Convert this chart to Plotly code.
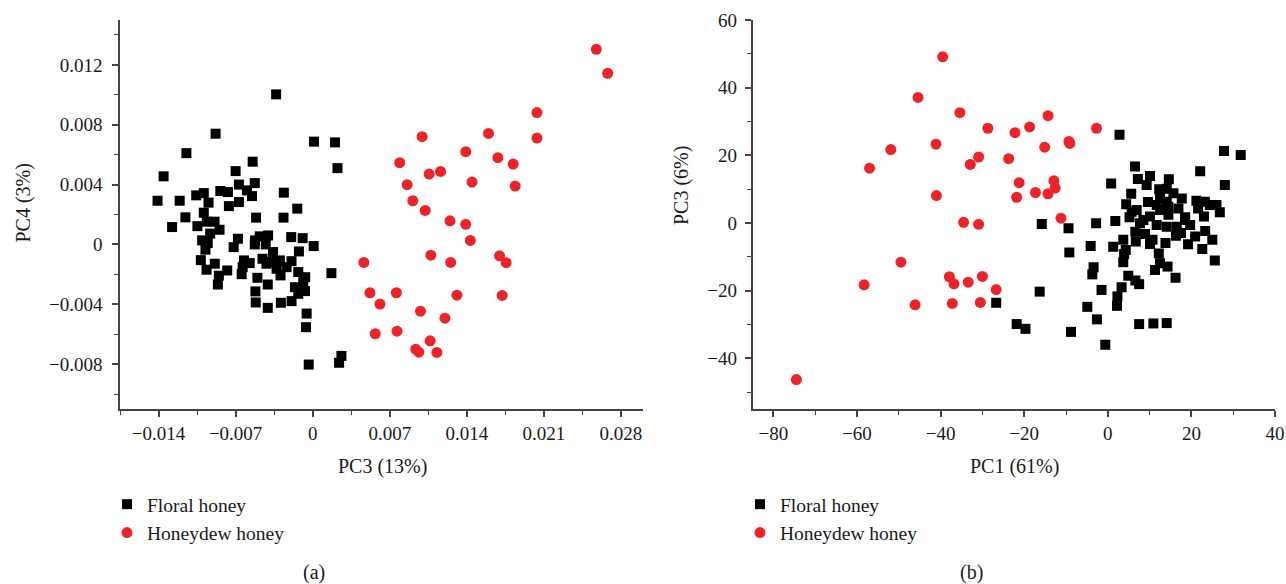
import plotly.graph_objects as go

W, H = 1286, 584

# ---------------- Panel (a): PC3 vs PC4 ----------------
floral_a_x = [-0.00332, -0.00882, -0.01147, 0.00012, 0.00203, 0.00225, -0.00545, -0.007, -0.01354, -0.01409,
              -0.01208, -0.01058, -0.00989, -0.00839, -0.0077, -0.0067, -0.00526, -0.00597, -0.00551, -0.0067,
              -0.00946, -0.00761, -0.00262, -0.00989, -0.01156, -0.01277, -0.01047, -0.00962, -0.00891, -0.00846,
              -0.00931, -0.01004, -0.00953, -0.00974, -0.01016, -0.00964, -0.00889, -0.00852, -0.00861, -0.00776,
              -0.00514, -0.00265, -0.0014, -0.00679, -0.00718, -0.00524, -0.00526, -0.00481, -0.00405, -0.00426,
              -0.0036, -0.00195, -0.00091, 0.00009, -0.00125, -0.00624, -0.00572, -0.00636, -0.00645, -0.00456,
              -0.0042, -0.0036, -0.00298, -0.00328, -0.00292, -0.00237, -0.00192, -0.00131, -0.00068, -0.00161,
              -0.0007, -0.00131, -0.00192, -0.00289, -0.00502, -0.00408, -0.0052, -0.00517, -0.00408, -0.00055,
              -0.00061, -0.00036, 0.00261, 0.0024, 0.0017, -0.00086, -0.00374]
floral_a_y = [0.01003, 0.0074, 0.0061, 0.00687, 0.00682, 0.0051, 0.00553, 0.0049, 0.00455, 0.00292,
              0.00292, 0.00328, 0.00343, 0.00357, 0.0035, 0.004, 0.0041, 0.00361, 0.00323, 0.00283,
              0.00279, 0.00256, 0.00346, 0.00212, 0.00181, 0.00116, 0.00122, 0.00152, 0.00152, 0.00098,
              0.00072, 0.00027, 0.00009, -0.00035, -0.00105, -0.00169, -0.00129, -0.00209, -0.00268, -0.00174,
              0.00179, 0.00179, 0.00239, 0.00038, -0.00018, 0.00027, 0.0, 0.00054, 0.0006, 0.0,
              -0.00051, 0.00049, 0.00042, -0.00011, -0.00047, -0.00107, -0.00125, -0.00152, -0.00199, -0.00096,
              -0.00129, -0.00112, -0.00107, -0.00163, -0.00207, -0.00152, -0.00112, -0.00185, -0.00219, -0.00286,
              -0.00312, -0.0033, -0.00379, -0.0039, -0.00223, -0.00268, -0.00314, -0.00388, -0.00424, -0.00462,
              -0.00553, -0.00803, -0.00745, -0.00791, -0.00192, -0.00252, -0.00118]

honeydew_a_x = [0.02576, 0.02679, 0.02037, 0.02037, 0.00994, 0.01597, 0.0139, 0.0079, 0.01682, 0.01821,
                0.01058, 0.01161, 0.00858, 0.01447, 0.01839, 0.00909, 0.01022, 0.01247, 0.0139, 0.01432,
                0.01073, 0.01253, 0.01697, 0.01757, 0.00465, 0.0052, 0.0076, 0.00611, 0.0131, 0.01721,
                0.00979, 0.01201, 0.00568, 0.00766, 0.01067, 0.00936, 0.00964, 0.01128]
honeydew_a_y = [0.01304, 0.01144, 0.00881, 0.00711, 0.0072, 0.00742, 0.0062, 0.00546, 0.0058, 0.00537,
                0.0047, 0.00488, 0.00399, 0.00417, 0.0039, 0.00292, 0.00227, 0.00158, 0.00134, 0.00027,
                -0.00072, -0.0012, -0.00076, -0.00122, -0.0012, -0.00323, -0.00323, -0.00399, -0.00339, -0.00341,
                -0.00446, -0.00493, -0.00597, -0.0058, -0.00644, -0.007, -0.0072, -0.00722]

# ---------------- Panel (b): PC1 vs PC3 ----------------
floral_b_x = [2.8, 27.8, 31.8, 6.5, 22.1, 0.8, 7.2, 10.1, 14.6, 28.0,
              9.3, 5.6, 12.3, 14.1, 15.7, 17.7, 21.2, 23.2, 26.0, 4.4,
              9.6, 11.7, 14.1, 16.9, 6.9, 12.5, 26.8, 23.0, 5.2, 10.1,
              14.5, 18.5, 1.8, -2.8, -15.8, -9.4, 7.7, 11.7, 16.5, 19.7,
              6.6, 8.9, 14.1, 16.3, 20.9, 23.3, 3.7, 6.7, 10.7, 10.1,
              13.8, 19.2, 25.0, -4.1, 1.3, 4.3, 22.6, -9.2, 3.9, 12.2,
              3.7, 25.6, 12.5, 14.3, 11.3, -3.4, -3.7, 4.9, 6.6, 7.5,
              16.2, 3.3, -1.5, 2.3, 2.2, -4.9, -16.3, -2.6, -21.8, -19.7,
              -8.8, -0.6, 7.5, 10.9, 14.1, -26.7, 12.5, 14.5, 18.5, 17.5,
              8.5, 5.7, 24.4, 21.6]
floral_b_y = [26.1, 21.3, 20.1, 16.7, 15.3, 11.7, 13.0, 13.9, 12.9, 11.2,
              11.2, 8.6, 10.0, 10.1, 8.8, 7.2, 6.6, 6.3, 5.3, 5.5,
              6.2, 5.3, 6.3, 4.3, 3.8, 3.8, 3.2, 1.9, 1.7, 1.9,
              2.4, 1.7, 0.6, -0.1, -0.3, -1.6, -0.1, -0.6, -1.1, -0.6,
              -2.6, -3.3, -1.1, -3.8, -4.0, -2.4, -5.0, -5.5, -5.0, -6.2,
              -5.9, -6.3, -5.0, -6.8, -7.0, -8.0, -7.7, -8.7, -9.2, -9.0,
              -11.6, -11.1, -11.9, -12.9, -13.9, -13.1, -15.2, -15.6, -17.0, -18.1,
              -16.2, -19.0, -19.8, -21.7, -24.5, -24.8, -20.3, -28.5, -29.9, -31.3,
              -32.2, -36.0, -29.9, -29.7, -29.6, -23.6, 7.3, 4.8, 0.9, -3.0,
              0.9, 3.3, 5.3, 4.3]

honeydew_b_x = [-39.5, -45.4, -35.4, -28.7, -22.2, -18.7, -41.1, -51.9, -57.0, -30.9,
                -32.9, -23.7, -21.2, -17.3, -21.8, -41.0, -34.5, -30.9, -49.5, -58.3,
                -37.9, -36.8, -33.4, -30.0, -26.7, -46.1, -37.2, -30.5, -74.5, -14.3,
                -2.7, -15.1, -9.3, -9.1, -14.3, -12.9, -12.6, -11.2]
honeydew_b_y = [49.1, 37.1, 32.6, 28.0, 26.7, 28.4, 23.3, 21.7, 16.2, 19.5,
                17.3, 19.0, 11.9, 9.0, 7.6, 8.1, 0.2, -0.4, -11.6, -18.3,
                -15.9, -18.0, -17.5, -15.8, -19.7, -24.2, -23.8, -23.5, -46.3, 31.7,
                28.0, 22.4, 24.1, 23.5, 8.6, 12.5, 10.3, 1.4]

series_names = ["Floral honey", "Honeydew honey"]

# tick labels
a_xtick_vals = [-0.014, -0.007, 0, 0.007, 0.014, 0.021, 0.028]
a_xtick_text = ["\u22120.014", "\u22120.007", "0", "0.007", "0.014", "0.021", "0.028"]
a_ytick_vals = [-0.008, -0.004, 0, 0.004, 0.008, 0.012]
a_ytick_text = ["\u22120.008", "\u22120.004", "0", "0.004", "0.008", "0.012"]
b_xtick_vals = [-80, -60, -40, -20, 0, 20, 40]
b_xtick_text = ["\u221280", "\u221260", "\u221240", "\u221220", "0", "20", "40"]
b_ytick_vals = [-40, -20, 0, 20, 40, 60]
b_ytick_text = ["\u221240", "\u221220", "0", "20", "40", "60"]

BLACK = "#000000"
RED = "#EE2328"
FONT = "Liberation Serif"
AXC = "#444444"
TXT = "#1a1a1a"

def px(xp):
    return xp / W

def py(yp):
    return 1 - yp / H

fig = go.Figure()
fig.add_trace(go.Scatter(x=floral_a_x, y=floral_a_y, mode="markers", name=series_names[0],
                         marker=dict(symbol="square", size=10, color=BLACK),
                         xaxis="x", yaxis="y", legend="legend"))
fig.add_trace(go.Scatter(x=honeydew_a_x, y=honeydew_a_y, mode="markers", name=series_names[1],
                         marker=dict(symbol="circle", size=11, color=RED),
                         xaxis="x", yaxis="y", legend="legend"))
fig.add_trace(go.Scatter(x=floral_b_x, y=floral_b_y, mode="markers", name=series_names[0],
                         marker=dict(symbol="square", size=10, color=BLACK),
                         xaxis="x2", yaxis="y2", legend="legend2"))
fig.add_trace(go.Scatter(x=honeydew_b_x, y=honeydew_b_y, mode="markers", name=series_names[1],
                         marker=dict(symbol="circle", size=11, color=RED),
                         xaxis="x2", yaxis="y2", legend="legend2"))

def axis_style(dom, anchor, rng, tv, tt, minor_dtick, standoff):
    return dict(domain=dom, anchor=anchor, range=rng, tickvals=tv, ticktext=tt,
                automargin=False,
                showline=True, linecolor=AXC, linewidth=1.5, mirror=False,
                ticks="outside", ticklen=6, tickwidth=1.5, tickcolor=AXC,
                ticklabelstandoff=standoff,
                showgrid=False, zeroline=False,
                tickfont=dict(family=FONT, size=19, color=TXT),
                minor=dict(ticks="outside", ticklen=4, tickwidth=1.2, tickcolor=AXC,
                           dtick=minor_dtick, tick0=0, showgrid=False))

ydom = [py(409), py(20)]
legend_common = dict(xanchor="left", yanchor="top",
                     font=dict(family=FONT, size=19.5, color=TXT), bgcolor="rgba(0,0,0,0)",
                     borderwidth=0, itemclick=False, itemdoubleclick=False)
fig.update_layout(
    width=W, height=H, margin=dict(l=0, r=0, t=0, b=0, pad=0, autoexpand=False),
    paper_bgcolor="white", plot_bgcolor="white",
    xaxis=axis_style([px(120), px(643)], "y", [-0.0175, 0.030], a_xtick_vals, a_xtick_text, 0.0035, 0),
    yaxis=axis_style(ydom, "x", [-0.011, 0.015], a_ytick_vals, a_ytick_text, 0.002, 6),
    xaxis2=axis_style([px(752.5), px(1275)], "y2", [-85, 40], b_xtick_vals, b_xtick_text, 10, 0),
    yaxis2=axis_style(ydom, "x2", [-55, 60], b_ytick_vals, b_ytick_text, 10, 4),
    legend=dict(x=px(107), y=py(485), **legend_common),
    legend2=dict(x=px(740), y=py(485), **legend_common),
    showlegend=True,
)

ann_font = dict(family=FONT, size=20, color=TXT)
annotations = [
    dict(text="PC3 (13%)", x=px(382), y=py(466)),
    dict(text="PC1 (61%)", x=px(1014), y=py(466)),
    dict(text="PC4 (3%)", x=px(22.5), y=py(203), textangle=-90),
    dict(text="PC3 (6%)", x=px(681), y=py(186), textangle=-90),
    dict(text="(a)", x=px(314), y=py(572)),
    dict(text="(b)", x=px(971), y=py(572)),
]
for a in annotations:
    a.update(xref="paper", yref="paper", xanchor="center", yanchor="middle",
             showarrow=False, font=ann_font)
fig.update_layout(annotations=annotations)

fig.write_html("out.html")
